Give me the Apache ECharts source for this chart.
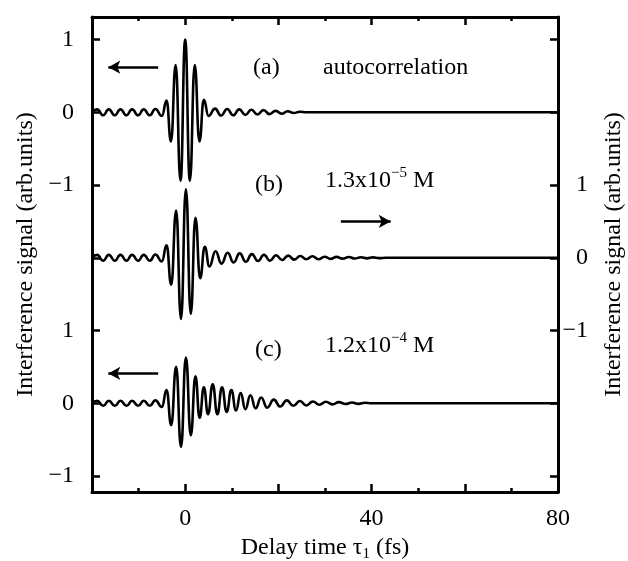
<!DOCTYPE html>
<html>
<head>
<meta charset="utf-8">
<script src="https://cdn.jsdelivr.net/npm/echarts@6/dist/echarts.min.js"></script>
<style>
  html, body { margin: 0; padding: 0; background: #fff; }
  #chart { width: 628px; height: 561px; }
</style>
</head>
<body>
<div id="chart"></div>
<script>
// extrema of each trace: [delay (fs), signal]
const traceA = [
  [-20, 0], [-18.9, 0.04], [-17.6, -0.04], [-16.4, 0.04], [-15.1, -0.04], [-13.9, 0.04],
  [-12.6, -0.04], [-11.4, 0.04], [-10.1, -0.04], [-8.9, 0.04], [-7.6, -0.04], [-6.4, 0.045],
  [-5.0, -0.05], [-4.0, 0.16], [-3.05, -0.40], [-2.05, 0.65], [-1.0, -0.94], [0, 1.0],
  [1.0, -0.94], [2.05, 0.65], [3.05, -0.40], [4.0, 0.17], [5.0, -0.05], [6.4, 0.05],
  [7.7, -0.045], [9.0, 0.045], [10.3, -0.04], [11.6, 0.04], [12.9, -0.035], [14.2, 0.035],
  [15.5, -0.03], [16.8, 0.03], [18.1, -0.025], [19.4, 0.02], [20.7, -0.02], [22.0, 0.015],
  [23.3, -0.01], [24.6, 0.008], [26, 0], [80, 0]
];
const traceB = [
  [-20, 0], [-18.9, 0.04], [-17.6, -0.04], [-16.4, 0.04], [-15.1, -0.04], [-13.9, 0.04],
  [-12.6, -0.04], [-11.4, 0.04], [-10.1, -0.04], [-8.9, 0.04], [-7.6, -0.04], [-6.4, 0.045],
  [-5.0, -0.05], [-4.0, 0.17], [-3.0, -0.37], [-1.95, 0.65], [-0.9, -0.84], [0.15, 0.94],
  [1.2, -0.77], [2.2, 0.55], [3.2, -0.28], [4.2, 0.15], [5.2, -0.12], [6.5, 0.09],
  [7.8, -0.08], [9.1, 0.07], [10.4, -0.065], [11.7, 0.06], [13.0, -0.055], [14.3, 0.05],
  [15.6, -0.045], [16.9, 0.04], [18.2, -0.04], [19.5, 0.035], [20.8, -0.03], [22.1, 0.03],
  [23.4, -0.025], [24.7, 0.025], [26.0, -0.02], [27.3, 0.02], [28.6, -0.02], [29.9, 0.015],
  [31.2, -0.015], [32.5, 0.012], [33.8, -0.012], [35.1, 0.01], [36.4, -0.01], [37.7, 0.008],
  [39.0, -0.008], [40.3, 0.006], [41.6, -0.005], [43, 0], [80, 0]
];
const traceC = [
  [-20, 0], [-18.9, 0.035], [-17.6, -0.035], [-16.4, 0.035], [-15.1, -0.035], [-13.9, 0.035],
  [-12.6, -0.035], [-11.4, 0.035], [-10.1, -0.035], [-8.9, 0.035], [-7.6, -0.035], [-6.4, 0.04],
  [-5.0, -0.05], [-4.0, 0.18], [-3.0, -0.30], [-1.95, 0.50], [-0.9, -0.60], [0.15, 0.63],
  [1.2, -0.44], [2.2, 0.37], [3.1, -0.20], [4.0, 0.22], [4.9, -0.15], [5.9, 0.26],
  [6.9, -0.15], [7.9, 0.22], [8.9, -0.12], [9.9, 0.18], [10.9, -0.10], [11.9, 0.14],
  [12.9, -0.08], [14.0, 0.11], [15.1, -0.07], [16.3, 0.08], [17.6, -0.06], [19.0, 0.05],
  [20.4, -0.045], [21.8, 0.04], [23.2, -0.035], [24.6, 0.03], [26.0, -0.03], [27.4, 0.025],
  [28.8, -0.02], [30.2, 0.02], [31.6, -0.015], [33.0, 0.015], [34.4, -0.01], [35.8, 0.01],
  [37.2, -0.008], [38.6, 0.006], [40, 0], [80, 0]
];

// vertical offsets of traces (a) and (b) relative to (c), in signal units
const offsetA = 4;
const offsetB = 2;

const xTicks = [-20, 0, 20, 40, 60, 80];
const xLabels = [0, 40, 80];
const yTicks = [-1, 0, 1];

const fontFamily = '"Liberation Serif", "Times New Roman", serif';
const chart = echarts.init(document.getElementById('chart'));

const gridRange = { min: -1.22, max: 5.31 };

function traceSeries(data, yIndex, arrow) {
  const s = {
    type: 'line',
    yAxisIndex: yIndex,
    data: data,
    smooth: 0.5,
    smoothMonotone: 'x',
    showSymbol: false,
    silent: true,
    lineStyle: { color: '#000', width: 2.6 },
    z: 3
  };
  if (arrow) {
    s.markLine = {
      silent: true,
      symbol: ['none', 'arrow'],
      symbolSize: [10, 12],
      label: { show: false },
      lineStyle: { color: '#000', width: 2.6, type: 'solid' },
      data: [[{ coord: arrow[0] }, { coord: arrow[1] }]]
    };
  }
  return s;
}

const xAxisBase = {
  type: 'value',
  min: xTicks[0],
  max: xTicks[xTicks.length - 1],
  interval: 20,
  axisLine: { show: true, onZero: false, lineStyle: { color: '#000', width: 3 } },
  axisTick: { show: true, inside: true, length: 8, lineStyle: { color: '#000', width: 2.5 } },
  minorTick: { show: true, splitNumber: 2, length: 4, lineStyle: { color: '#000', width: 2.5 } },
  splitLine: { show: false },
  minorSplitLine: { show: false }
};

const yLabelStyle = { color: '#000', fontFamily: fontFamily, fontSize: 24 };
const fmtMinus = v => (v < 0 ? '\u2212' + Math.abs(v) : String(v));

chart.setOption({
  animation: false,
  backgroundColor: '#fff',
  grid: { left: 92, right: 70, top: 17, bottom: 69, containLabel: false, outerBoundsMode: 'none' },
  xAxis: [
    Object.assign({}, xAxisBase, {
      position: 'bottom',
      axisLabel: {
        color: '#000', fontFamily: fontFamily, fontSize: 24, margin: 15,
        formatter: v => (xLabels.indexOf(v) >= 0 ? String(v) : '')
      },
      name: '{n|Delay time \u03c4}{s|1}{n| (fs)}',
      nameLocation: 'middle',
      nameGap: 40,
      nameTextStyle: {
        rich: {
          n: { fontFamily: fontFamily, fontSize: 24, color: '#000', lineHeight: 28 },
          s: { fontFamily: fontFamily, fontSize: 15, color: '#000', lineHeight: 12, verticalAlign: 'bottom' }
        }
      }
    }),
    Object.assign({}, xAxisBase, {
      position: 'top',
      axisLabel: { show: false }
    })
  ],
  yAxis: [
    {
      type: 'value',
      position: 'left',
      min: gridRange.min,
      max: gridRange.max,
      axisLine: { show: true, onZero: false, lineStyle: { color: '#000', width: 3 } },
      axisTick: {
        show: true, inside: true, length: 8, lineStyle: { color: '#000', width: 2.5 },
        customValues: [-1, 0, 1, 2, 3, 4, 5]
      },
      axisLabel: Object.assign({ customValues: yTicks, margin: 18, formatter: fmtMinus }, yLabelStyle),
      splitLine: { show: false },
      name: 'Interference signal (arb.units)',
      nameLocation: 'middle',
      nameGap: 54,
      nameTextStyle: { fontFamily: fontFamily, fontSize: 24, color: '#000' }
    },
    {
      type: 'value',
      position: 'left',
      min: gridRange.min - offsetA,
      max: gridRange.max - offsetA,
      axisLine: { show: false, onZero: false },
      axisTick: { show: false },
      axisLabel: Object.assign({ customValues: yTicks, margin: 18, formatter: fmtMinus }, yLabelStyle),
      splitLine: { show: false }
    },
    {
      type: 'value',
      position: 'right',
      min: gridRange.min - offsetB,
      max: gridRange.max - offsetB,
      axisLine: { show: true, onZero: false, lineStyle: { color: '#000', width: 3 } },
      axisTick: {
        show: true, inside: true, length: 8, lineStyle: { color: '#000', width: 2.5 },
        customValues: [-3, -2, -1, 0, 1, 2, 3]
      },
      axisLabel: Object.assign({ customValues: yTicks, margin: 30, align: 'right', formatter: fmtMinus }, yLabelStyle),
      splitLine: { show: false },
      name: 'Interference signal (arb.units)',
      nameLocation: 'middle',
      nameGap: 44,
      nameTextStyle: { fontFamily: fontFamily, fontSize: 24, color: '#000' }
    }
  ],
  series: [
    traceSeries(traceA, 1, [[-5.8, 0.62], [-16.5, 0.62]]),
    traceSeries(traceB, 2, [[33.4, 0.5], [44.1, 0.5]]),
    traceSeries(traceC, 0, [[-5.8, 0.41], [-16.5, 0.41]])
  ],
  graphic: [
    { type: 'text', left: 253, top: 56, style: { text: '(a)', font: '24px ' + fontFamily, fill: '#000' } },
    { type: 'text', left: 323, top: 56, style: { text: 'autocorrelation', font: '24px ' + fontFamily, fill: '#000' } },
    { type: 'text', left: 255, top: 173, style: { text: '(b)', font: '24px ' + fontFamily, fill: '#000' } },
    {
      type: 'text', left: 325, top: 166,
      style: {
        text: '{n|1.3x10}{p|\u22125}{n| M}',
        rich: {
          n: { fontFamily: fontFamily, fontSize: 24, fill: '#000', lineHeight: 30 },
          p: { fontFamily: fontFamily, fontSize: 15, fill: '#000', lineHeight: 14, verticalAlign: 'top' }
        }
      }
    },
    { type: 'text', left: 255, top: 338, style: { text: '(c)', font: '24px ' + fontFamily, fill: '#000' } },
    {
      type: 'text', left: 325, top: 331,
      style: {
        text: '{n|1.2x10}{p|\u22124}{n| M}',
        rich: {
          n: { fontFamily: fontFamily, fontSize: 24, fill: '#000', lineHeight: 30 },
          p: { fontFamily: fontFamily, fontSize: 15, fill: '#000', lineHeight: 14, verticalAlign: 'top' }
        }
      }
    }
  ]
});
</script>
</body>
</html>
